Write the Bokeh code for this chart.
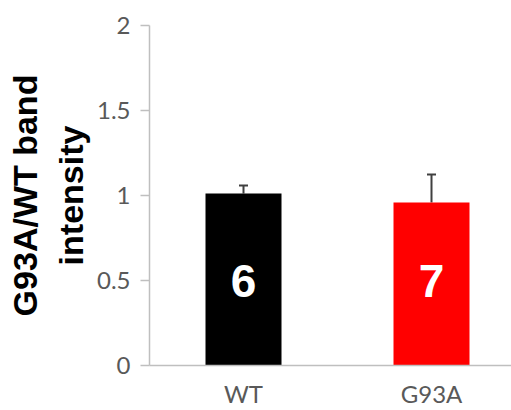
from bokeh.plotting import figure
from bokeh.models import ColumnDataSource, Whisker, FixedTicker, Range1d, TeeHead
from bokeh.embed import file_html
from bokeh.resources import INLINE
from bokeh.core.properties import value

categories = ["WT", "G93A"]
means = [1.012, 0.959]
errors = [0.047, 0.165]
counts = ["6", "7"]
colors = ["#000000", "#ff0000"]
yticks = [0, 0.5, 1, 1.5, 2]

xpos = [i + 0.5 for i in range(len(categories))]
src = ColumnDataSource(dict(
    x=xpos, top=means,
    upper=[m + e for m, e in zip(means, errors)],
    color=colors, n=counts, ny=[0.5] * len(categories),
))

p = figure(width=511, height=410, output_backend="svg", toolbar_location=None,
           x_range=Range1d(0, 362 / 188), y_range=Range1d(0, 2),
           min_border_left=149, min_border_right=0, min_border_top=25, min_border_bottom=45)
p.outline_line_color = None
p.xgrid.visible = False
p.ygrid.visible = False
p.background_fill_color = "white"
p.border_fill_color = "white"

p.vbar(x="x", top="top", bottom=0, width=76 / 188, fill_color="color", line_color=None, source=src)

wh = Whisker(base="x", upper="upper", lower="top", source=src,
             line_color="#404040", line_width=2,
             upper_head=TeeHead(size=9, line_color="#404040", line_width=2),
             lower_head=None)
p.add_layout(wh)

p.text(x="x", y="ny", text="n", source=src, text_color="white",
       text_font=value("Liberation Sans"), text_font_style="bold",
       text_font_size="46px", text_align="center", text_baseline="middle")

ax = p.xaxis[0]
ax.ticker = FixedTicker(ticks=xpos)
ax.major_label_overrides = {x: c for x, c in zip(xpos, categories)}
ax.axis_line_color = "#bfbfbf"
ax.axis_line_width = 1.5
ax.major_tick_out = 0
ax.major_tick_in = 0
ax.minor_tick_out = 0
ax.minor_tick_in = 0
ax.major_label_text_font = "Lato"
ax.major_label_text_font_size = "24px"
ax.major_label_text_color = "#595959"
ax.major_label_standoff = 13

ay = p.yaxis[0]
ay.ticker = FixedTicker(ticks=yticks)
ay.axis_line_color = "#bfbfbf"
ay.axis_line_width = 1.5
ay.major_tick_line_color = "#bfbfbf"
ay.major_tick_line_width = 1.5
ay.major_tick_out = 9
ay.major_tick_in = 0
ay.minor_tick_out = 0
ay.minor_tick_in = 0
ay.major_label_text_font = "Lato"
ay.major_label_text_font_size = "24px"
ay.major_label_text_color = "#595959"
ay.major_label_standoff = 10
ay.axis_label = "G93A/WT band\nintensity"
ay.axis_label_text_font = "Liberation Sans"
ay.axis_label_text_font_style = "bold"
ay.axis_label_text_font_size = "34px"
ay.axis_label_text_color = "black"
ay.axis_label_standoff = 4

open("out.html", "w").write(file_html(p, INLINE))
